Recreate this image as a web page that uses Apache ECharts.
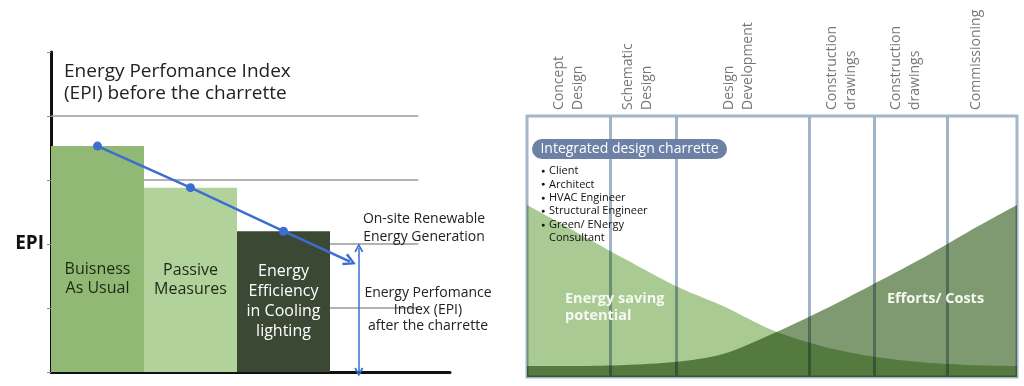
<!DOCTYPE html>
<html>
<head>
<meta charset="utf-8">
<script src="https://cdn.jsdelivr.net/npm/echarts@6/dist/echarts.min.js"></script>
<style>
  html, body { margin: 0; padding: 0; background: #ffffff; }
  #chart { width: 1024px; height: 386px; }
</style>
</head>
<body>
<div id="chart"></div>
<script>
// ---------- Left chart data ----------
const leftCategories = ['Buisness\nAs Usual', 'Passive\nMeasures', 'Energy\nEfficiency\nin Cooling\nlighting'];
const leftX = [0.5, 1.5, 2.5];
const epiValues = [3.53, 2.88, 2.2];
const gridLevels = [1, 2, 3, 4];
const yTickLabels = ['', '', 'EPI', '', '', ''];
const trendEnd = [3.215, 1.725];
const epiArrowX = 3.31;
const epiArrowTop = 1.94;

// ---------- Right chart data ----------
const phaseNames = ['Concept\nDesign', 'Schematic\nDesign', 'Design\nDevelopment', 'Construction\ndrawings', 'Construction\ndrawings', 'Commissioning'];
const phaseBounds = [0, 1.69, 3.04, 5.76, 7.08, 8.57, 10];
const phaseLabelX = [0.84, 2.26, 4.31, 6.41, 7.73, 9.16];
const curveX = [0, 1, 2, 3, 4, 5, 6, 7, 8, 9, 10];
const energySaving = [65.9, 55.6, 45.2, 35.2, 27.2, 18.0, 11.9, 8.0, 5.7, 4.6, 4.2];
const effortsCosts = [4.2, 4.2, 4.6, 5.7, 8.8, 16.5, 25.3, 34.9, 44.8, 55.6, 65.9];
const charretteTeam = ['Client', 'Architect', 'HVAC Engineer', 'Structural Engineer', 'Green/ ENergy', 'Consultant'];
const teamBullets = [true, true, true, true, true, false];

// ---------- styles ----------
const FONT = '"Open Sans", "Noto Sans", sans-serif';
const barColors = ['#91b975', '#b2d29c', '#3a4834'];
const barLabelColors = ['#1c2a14', '#1c2a14', '#ffffff'];
const barLabelOffsets = [[0, 20], [0, 0], [0, 0]];
const barLabelLineHeights = [19, 19, 20];
const blue = '#3c6ed2';
const chevron = 'path://M0,9 L5,0 L10,9 L8.2,10 L5,3.6 L1.8,10 Z';

const chart = echarts.init(document.getElementById('chart'), null, { renderer: 'canvas' });

const option = {
  backgroundColor: '#ffffff',
  animation: false,
  textStyle: { fontFamily: FONT },
  grid: [
    { left: 51, top: 52, width: 399, height: 320, containLabel: false },
    { left: 527, top: 116, width: 490, height: 261, show: true, borderColor: '#a3b6c9', borderWidth: 3, backgroundColor: 'transparent' }
  ],
  xAxis: [
    { gridIndex: 0, type: 'value', min: 0, max: 399 / 93,
      axisLine: { show: true, lineStyle: { color: '#111111', width: 3 } },
      axisTick: { show: false }, axisLabel: { show: false }, splitLine: { show: false } },
    { gridIndex: 1, type: 'value', min: 0, max: 10, show: false, splitLine: { show: false } }
  ],
  yAxis: [
    { gridIndex: 0, type: 'value', min: 0, max: 5, interval: 1,
      axisLine: { show: true, lineStyle: { color: '#111111', width: 3 } },
      axisTick: { show: true, length: 4, lineStyle: { color: '#8a8a8a', width: 1 } },
      axisLabel: { show: true, margin: 7, fontFamily: FONT, fontSize: 19, fontWeight: 'bold', color: '#111111',
        formatter: (v) => yTickLabels[Math.round(v)] || '' },
      splitLine: { show: false } },
    { gridIndex: 1, type: 'value', min: 0, max: 100, show: false, splitLine: { show: false } }
  ],
  series: [
    // bars
    {
      type: 'bar', xAxisIndex: 0, yAxisIndex: 0, z: 2,
      barWidth: 93,
      data: leftX.map((x, i) => ({
        value: [x, epiValues[i]],
        itemStyle: { color: barColors[i] },
        label: { color: barLabelColors[i], offset: barLabelOffsets[i], lineHeight: barLabelLineHeights[i] }
      })),
      label: {
        show: true, position: 'inside', fontFamily: FONT, fontSize: 16, align: 'center',
        formatter: (p) => leftCategories[p.dataIndex]
      },
      markLine: {
        z: 1, silent: true, symbol: ['none', 'none'], animation: false,
        label: { show: false },
        lineStyle: { color: '#9a9a9a', width: 1.5, type: 'solid' },
        data: gridLevels.map(v => [{ coord: [0, v] }, { coord: [3.95, v] }])
      }
    },
    // trend line
    {
      type: 'line', xAxisIndex: 0, yAxisIndex: 0, z: 4,
      data: leftX.map((x, i) => [x, epiValues[i]]),
      symbol: 'circle', symbolSize: 9,
      itemStyle: { color: blue },
      lineStyle: { color: blue, width: 2.5 },
      markLine: {
        z: 5, silent: true, animation: false,
        label: { show: false },
        data: [
          [{ coord: [leftX[2], epiValues[2]], symbol: 'none', lineStyle: { color: blue, width: 2.5, type: 'solid' } },
           { coord: trendEnd, symbol: chevron, symbolSize: [13, 13] }],
          [{ coord: [epiArrowX, epiArrowTop], symbol: chevron, symbolSize: [9, 9], lineStyle: { color: blue, width: 1.5, type: 'solid' } },
           { coord: [epiArrowX, 0], symbol: chevron, symbolSize: [9, 9] }]
        ]
      }
    },
    // phase labels + phase separator lines
    {
      type: 'scatter', xAxisIndex: 1, yAxisIndex: 1, z: 3, clip: false,
      symbolSize: 1, itemStyle: { color: 'rgba(0,0,0,0)' },
      data: phaseLabelX.map(x => [x, 102.3]),
      label: {
        show: true, position: 'inside', rotate: 90, align: 'left', verticalAlign: 'middle',
        fontFamily: FONT, fontSize: 14, lineHeight: 19, color: '#555555',
        formatter: (p) => phaseNames[p.dataIndex]
      },
      markLine: {
        z: 1, silent: true, symbol: ['none', 'none'], animation: false,
        label: { show: false },
        lineStyle: { color: '#a0b4c8', width: 3, type: 'solid' },
        data: phaseBounds.slice(1, -1).map(v => ({ xAxis: v }))
      }
    },
    // energy saving potential
    {
      type: 'line', xAxisIndex: 1, yAxisIndex: 1, z: 2,
      blendMode: 'multiply',
      data: curveX.map((x, i) => [x, energySaving[i]]),
      smooth: 0.3,
      symbol: 'none',
      lineStyle: { width: 0 },
      areaStyle: { color: '#a9ca92', opacity: 1 }
    },
    // efforts / costs
    {
      type: 'line', xAxisIndex: 1, yAxisIndex: 1, z: 2,
      blendMode: 'multiply',
      data: curveX.map((x, i) => [x, effortsCosts[i]]),
      smooth: 0.3,
      symbol: 'none',
      lineStyle: { width: 0 },
      areaStyle: { color: '#7f9a70', opacity: 1 }
    }
  ],
  graphic: [
    { type: 'text', x: 64, y: 61, z: 100,
      style: { text: 'Energy Perfomance Index\n(EPI) before the charrette', font: '19px ' + FONT, fill: '#222222', lineHeight: 22, align: 'left', verticalAlign: 'top' } },
    { type: 'text', x: 424, y: 210, z: 100,
      style: { text: 'On-site Renewable\nEnergy Generation', font: '14px ' + FONT, fill: '#222222', lineHeight: 18, align: 'center', verticalAlign: 'top' } },
    { type: 'text', x: 428, y: 285, z: 100,
      style: { text: 'Energy Perfomance\nIndex (EPI)\nafter the charrette', font: '14px ' + FONT, fill: '#222222', lineHeight: 16.5, align: 'center', verticalAlign: 'top' } },
    { type: 'rect', z: 100, shape: { x: 532, y: 139, width: 195, height: 20, r: 10 }, style: { fill: '#6d80a5' } },
    { type: 'text', x: 629.5, y: 149, z: 101,
      style: { text: 'Integrated design charrette', font: '14px ' + FONT, fill: '#ffffff', align: 'center', verticalAlign: 'middle' } },
    { type: 'text', x: 543, y: 164.3, z: 100,
      style: { text: teamBullets.map(b => b ? '●' : ' ').join('\n'), font: '7px ' + FONT, fill: '#111111', lineHeight: 13.4, align: 'center', verticalAlign: 'top' } },
    { type: 'text', x: 549, y: 164.3, z: 100,
      style: { text: charretteTeam.join('\n'), font: '11px ' + FONT, fill: '#111111', lineHeight: 13.4, align: 'left', verticalAlign: 'top' } },
    { type: 'text', x: 565, y: 290.5, z: 100,
      style: { text: 'Energy saving\npotential', font: 'bold 14.5px ' + FONT, fill: '#f6f9f2', lineHeight: 17, align: 'left', verticalAlign: 'top' } },
    { type: 'text', x: 887, y: 290.5, z: 100,
      style: { text: 'Efforts/ Costs', font: 'bold 14.5px ' + FONT, fill: '#f6f9f2', lineHeight: 17, align: 'left', verticalAlign: 'top' } }
  ]
};

chart.setOption(option);
</script>
</body>
</html>
